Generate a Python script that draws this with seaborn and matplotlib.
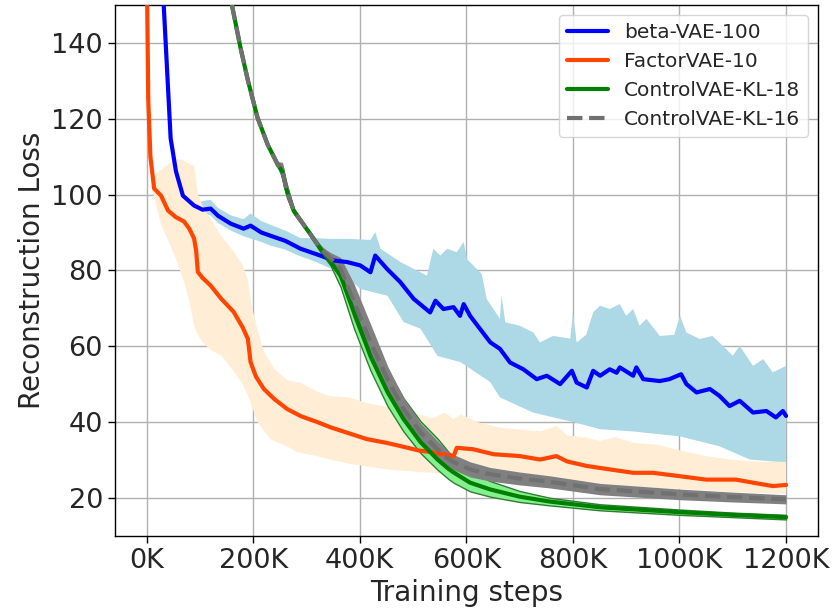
import matplotlib
matplotlib.use("Agg")
import matplotlib.pyplot as plt
import seaborn as sns

# ---- beta-VAE-100 (steps in thousands) ----
beta_x = [32, 45, 55, 68, 89, 105, 120, 134, 158, 182, 195, 215, 233, 260, 289, 326, 351, 376,
          401, 420, 429, 451, 476, 501, 532, 542, 557, 576, 588, 595, 607, 626, 645, 663, 682,
          707, 732, 751, 776, 798, 807, 826, 838, 851, 869, 882, 888, 913, 919, 932, 963, 981,
          1003, 1013, 1032, 1057, 1075, 1094, 1113, 1138, 1163, 1181, 1194, 1200]
beta_mean = [150, 114.8, 106.1, 99.7, 97.1, 96.0, 96.3, 94.4, 92.3, 91.0, 91.8, 90.0, 89.1, 87.8,
             85.7, 83.9, 82.6, 82.2, 81.3, 79.5, 83.9, 80.4, 76.9, 72.5, 68.9, 72.0, 69.8, 70.3,
             68.0, 71.1, 68.0, 64.5, 61.0, 59.3, 55.7, 53.9, 51.3, 52.2, 50.0, 53.5, 50.4, 49.1,
             53.5, 52.2, 53.9, 53.0, 54.4, 52.2, 54.4, 51.3, 50.8, 51.3, 52.6, 50.0, 47.8, 48.7,
             46.9, 44.2, 45.6, 42.5, 42.9, 41.2, 42.9, 41.6]
beta_upper_x = [95, 105, 120, 134, 158, 182, 195, 215, 233, 260, 289, 313, 345, 382, 420, 429,
                439, 476, 526, 538, 551, 564, 582, 595, 601, 613, 629, 638, 663, 666, 673, 700,
                726, 738, 763, 795, 800, 807, 825, 838, 851, 869, 888, 900, 913, 925, 938, 963,
                990, 1001, 1013, 1038, 1062, 1100, 1113, 1138, 1157, 1175, 1200]
beta_upper = [97.5, 98.3, 98.6, 96.5, 94.5, 93.5, 95.0, 93.0, 92.0, 90.5, 88.5, 88.5, 88.3, 88.3,
              88.0, 90.1, 85.7, 82.2, 78.6, 85.7, 83.9, 85.7, 84.8, 87.5, 83.0, 81.3, 79.0, 72.5,
              67.2, 73.3, 66.3, 65.4, 63.6, 61.0, 62.7, 62.0, 68.9, 61.0, 63.0, 68.9, 70.7, 69.8,
              71.1, 68.0, 69.8, 65.4, 67.2, 62.7, 63.0, 68.0, 63.6, 61.9, 62.7, 57.5, 60.1, 54.8,
              56.6, 53.1, 54.8]
beta_lower_x = [95, 105, 120, 134, 158, 182, 195, 215, 233, 260, 283, 313, 345, 370, 401, 452,
                482, 514, 546, 589, 645, 663, 725, 770, 800, 851, 913, 1001, 1075, 1132, 1200]
beta_lower = [96.5, 95.0, 94.5, 92.5, 90.5, 89.0, 88.4, 87.5, 86.5, 85.5, 84.0, 82.5, 80.5, 79.0,
              75.1, 73.3, 66.4, 64.6, 57.4, 55.8, 50.5, 46.5, 42.5, 41.0, 40.0, 38.1, 37.5, 36.2,
              33.6, 30.1, 29.3]

# ---- FactorVAE-10 ----
factor_x = [1, 3, 7, 14, 27, 40, 55, 70, 80, 89, 93, 96, 105, 120, 140, 163, 180, 190, 195, 205,
            220, 240, 264, 290, 320, 345, 380, 413, 450, 475, 510, 537, 576, 582, 613, 651, 701,
            738, 769, 789, 826, 869, 913, 950, 1001, 1050, 1106, 1138, 1175, 1200]
factor_mean = [150, 125, 110, 101.6, 99.7, 95.8, 94.0, 92.9, 91.0, 88.4, 85.0, 79.6, 78.0, 76.0,
               72.5, 69.1, 65.0, 61.9, 55.8, 52.0, 48.7, 46.0, 43.4, 41.5, 40.0, 38.6, 37.0, 35.5,
               34.5, 33.7, 32.5, 32.0, 31.0, 33.2, 32.8, 31.5, 31.0, 30.1, 31.0, 29.6, 28.4, 27.5,
               26.6, 26.6, 25.7, 24.8, 24.8, 24.0, 23.1, 23.4]
factor_upper_x = [10, 14, 27, 40, 55, 70, 80, 89, 93, 96, 105, 120, 140, 163, 180, 190, 195, 205,
                  220, 240, 264, 290, 320, 345, 380, 413, 450, 475, 510, 537, 560, 575, 590, 620,
                  663, 700, 740, 769, 789, 820, 851, 880, 913, 960, 1001, 1050, 1100, 1150, 1200]
factor_upper = [101.0, 105.0, 106.5, 108.0, 109.5, 109.0, 108.0, 107.7, 104.0, 100.0, 97.0, 93.5,
                89.0, 85.0, 81.5, 77.5, 72.0, 66.0, 58.5, 54.0, 51.0, 50.3, 48.0, 46.8, 46.5,
                45.0, 44.0, 43.4, 42.0, 41.0, 42.5, 40.8, 42.0, 40.0, 38.5, 38.0, 37.5, 39.0, 36.5,
                36.0, 35.0, 36.0, 34.5, 34.0, 32.5, 31.0, 30.0, 29.5, 29.5]
factor_lower_x = [10, 14, 27, 40, 55, 70, 80, 89, 96, 105, 120, 140, 163, 180, 190, 208, 220,
                  233, 264, 283, 320, 345, 380, 413, 450, 510, 575, 663, 738, 851, 960, 1100, 1200]
factor_lower = [101.0, 99.5, 92.0, 88.0, 83.0, 77.0, 72.0, 65.4, 63.0, 61.0, 59.0, 57.5, 53.5,
                50.0, 47.0, 40.0, 37.7, 35.4, 33.5, 32.0, 31.0, 30.1, 29.0, 28.3, 27.5, 26.8,
                26.3, 25.5, 24.7, 23.5, 22.6, 21.5, 21.0]

# ---- ControlVAE-KL-18 ----
kl18_x = [160, 176, 190, 208, 227, 246, 255, 262, 276, 308, 326, 345, 364, 389, 420, 452, 482,
          514, 546, 566, 576, 607, 645, 700, 757, 851, 1001, 1100, 1200]
kl18_mean = [150, 138.8, 130.1, 120.3, 113.2, 107.9, 106.0, 101.5, 95.7, 89.4, 85.7, 82.3, 78.6,
             69.0, 57.4, 47.9, 40.8, 34.7, 30.1, 27.7, 26.7, 24.0, 22.2, 20.3, 19.0, 17.5, 16.2,
             15.5, 14.9]
kl18_upper = [150, 139.1, 130.4, 120.6, 113.5, 108.4, 107.5, 103.0, 96.2, 89.9, 86.5, 83.8, 82.6,
              74.0, 63.4, 53.9, 46.3, 40.2, 35.6, 32.2, 30.2, 26.8, 24.4, 21.8, 20.0, 18.3, 16.9,
              16.1, 15.5]
kl18_lower = [150, 138.5, 129.8, 120.0, 112.9, 107.4, 104.5, 100.0, 95.2, 88.9, 84.9, 81.3, 75.6,
              64.7, 53.6, 44.2, 37.5, 31.8, 27.4, 25.0, 24.0, 21.7, 20.3, 18.9, 18.0, 16.7, 15.5,
              14.9, 14.3]

# ---- ControlVAE-KL-16 ----
kl16_x = kl18_x
kl16_mean = [150, 138.8, 130.1, 120.3, 113.2, 107.9, 106.0, 101.5, 95.7, 89.4, 85.7, 83.2, 80.4,
             71.7, 61.1, 51.3, 43.4, 37.3, 32.8, 30.3, 29.4, 27.5, 26.2, 25.1, 24.2, 22.3, 20.9,
             20.2, 19.6]
kl16_upper = [150, 139.2, 130.5, 120.7, 113.6, 108.7, 108.5, 104.0, 96.7, 89.9, 86.5, 84.7, 83.4,
              76.5, 65.9, 54.8, 46.4, 39.7, 35.0, 32.3, 31.4, 29.5, 28.0, 26.8, 25.8, 23.8, 22.3,
              21.5, 20.8]
kl16_lower = [150, 138.4, 129.7, 119.9, 112.8, 107.1, 103.5, 99.0, 94.7, 88.9, 84.9, 81.7, 77.4,
              66.9, 56.3, 47.8, 40.4, 34.9, 30.6, 28.3, 27.4, 25.5, 24.4, 23.4, 22.6, 20.8, 19.5,
              18.9, 18.4]

x_ticks = [0, 200, 400, 600, 800, 1000, 1200]
x_tick_labels = ["0K", "200K", "400K", "600K", "800K", "1000K", "1200K"]
y_ticks = [20, 40, 60, 80, 100, 120, 140]

sns.set_style("ticks", {"axes.grid": True, "grid.color": "#b0b0b0",
                        "axes.edgecolor": "black", "xtick.direction": "out",
                        "ytick.direction": "out"})
plt.rcParams["font.family"] = ["DejaVu Sans"]

fig = plt.figure(figsize=(8.36, 6.11), dpi=100)
ax = fig.add_axes([0.1372, 0.1232, 0.8413, 0.8686])


def band(ax, ux, uy, lx, ly, **kw):
    """Shade the region between an upper edge and a lower edge."""
    xs = list(ux) + list(lx)[::-1]
    ys = list(uy) + list(ly)[::-1]
    ax.fill(xs, ys, **kw)


# shaded spread of each run first, curves on top
band(ax, beta_upper_x, beta_upper, beta_lower_x, beta_lower, color="lightblue", lw=0, zorder=1)
band(ax, factor_upper_x, factor_upper, factor_lower_x, factor_lower, color="#FFEDD6", lw=0,
     zorder=1)
ax.fill_between(kl18_x, kl18_lower, kl18_upper, facecolor="#86F08E", edgecolor="#2e7d32",
                lw=1.0, zorder=1.2)
ax.fill_between(kl16_x, kl16_lower, kl16_upper, color="gray", lw=0, zorder=1.4)

sns.lineplot(x=beta_x, y=beta_mean, ax=ax, color="blue", lw=3, label="beta-VAE-100", zorder=3)
sns.lineplot(x=factor_x, y=factor_mean, ax=ax, color="orangered", lw=3, label="FactorVAE-10", zorder=3)
sns.lineplot(x=kl18_x, y=kl18_mean, ax=ax, color="green", lw=3, label="ControlVAE-KL-18", zorder=3)
sns.lineplot(x=kl16_x, y=kl16_mean, ax=ax, color="#707070", lw=3, linestyle="--",
             label="ControlVAE-KL-16", zorder=3.2)

ax.set_xlim(-60, 1260)
ax.set_ylim(10, 150)
ax.set_xticks(x_ticks)
ax.set_xticklabels(x_tick_labels)
ax.set_yticks(y_ticks)
ax.tick_params(axis="both", labelsize=19.5, length=5, width=1, color="black")
ax.set_xlabel("Training steps", fontsize=20)
ax.set_ylabel("Reconstruction Loss", fontsize=20)
ax.grid(True, color="#b0b0b0", lw=1.0)
ax.set_axisbelow(True)
for s in ax.spines.values():
    s.set_color("black")
    s.set_linewidth(1.0)

ax.legend(loc="upper right", fontsize=14.5, frameon=True, fancybox=True, framealpha=0.8,
          edgecolor="#cccccc")

fig.savefig("out.png", dpi=100)
